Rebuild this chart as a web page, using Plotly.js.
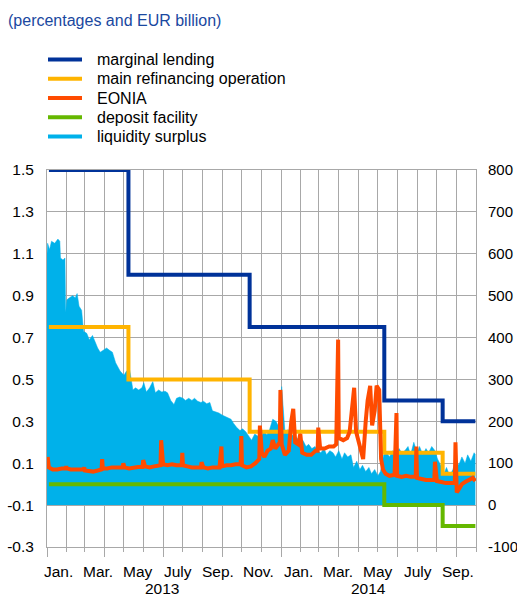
<!DOCTYPE html>
<html><head><meta charset="utf-8">
<script src="https://cdn.plot.ly/plotly-3.0.1.min.js"></script>
<style>html,body{margin:0;padding:0;background:#fff;}#chart{width:517px;height:597px;}</style>
</head><body><div id="chart"></div>
<script>
// ---------------- data ----------------
const rateDates = ['2013-01-04','2013-05-08','2013-11-13','2014-06-11','2014-09-10','2014-10-31'];
const marginalLending = [1.50, 1.00, 0.75, 0.40, 0.30, 0.30];
const mainRefinancing = [0.75, 0.50, 0.25, 0.15, 0.05, 0.05];
const depositFacility = [0.00, 0.00, 0.00, -0.10, -0.20, -0.20];

const eoniaDates = [
'2013-01-02','2013-01-04','2013-01-10','2013-01-17','2013-01-24','2013-01-30','2013-01-31','2013-02-01',
'2013-02-07','2013-02-14','2013-02-21','2013-02-27','2013-02-28','2013-03-01','2013-03-07','2013-03-14',
'2013-03-21','2013-03-27','2013-03-28','2013-03-29','2013-04-05','2013-04-12','2013-04-19','2013-04-29',
'2013-04-30','2013-05-02','2013-05-09','2013-05-16','2013-05-23','2013-05-30','2013-05-31','2013-06-03',
'2013-06-10','2013-06-17','2013-06-24','2013-06-27','2013-06-28','2013-07-01','2013-07-08','2013-07-15',
'2013-07-22','2013-07-30','2013-07-31','2013-08-01','2013-08-08','2013-08-15','2013-08-22','2013-08-29',
'2013-08-30','2013-09-02','2013-09-09','2013-09-16','2013-09-23','2013-09-27','2013-09-30','2013-10-01',
'2013-10-08','2013-10-15','2013-10-22','2013-10-30','2013-10-31','2013-11-01','2013-11-08','2013-11-15',
'2013-11-22','2013-11-28','2013-11-29','2013-12-02','2013-12-06','2013-12-11','2013-12-16','2013-12-19',
'2013-12-23','2013-12-30','2013-12-31','2014-01-02','2014-01-07','2014-01-13','2014-01-17','2014-01-20',
'2014-01-23','2014-01-28','2014-01-31','2014-02-03','2014-02-10','2014-02-17','2014-02-24','2014-02-27',
'2014-02-28','2014-03-03','2014-03-10','2014-03-17','2014-03-24','2014-03-28','2014-03-31','2014-04-01',
'2014-04-08','2014-04-14','2014-04-18','2014-04-22','2014-04-25','2014-04-28','2014-05-02','2014-05-06',
'2014-05-09','2014-05-13','2014-05-16','2014-05-20','2014-05-23','2014-05-27','2014-05-30','2014-06-03',
'2014-06-06','2014-06-09','2014-06-13','2014-06-19','2014-06-25','2014-06-27','2014-06-30','2014-07-01',
'2014-07-08','2014-07-15','2014-07-22','2014-07-30','2014-07-31','2014-08-01','2014-08-08','2014-08-15',
'2014-08-22','2014-08-28','2014-08-29','2014-09-01','2014-09-08','2014-09-15','2014-09-22','2014-09-29',
'2014-09-30','2014-10-02','2014-10-06','2014-10-10','2014-10-15','2014-10-21','2014-10-27','2014-10-31'];
const eoniaValues = [
0.13,0.08,0.07,0.07,0.075,0.075,0.085,0.075,
0.07,0.068,0.07,0.07,0.08,0.065,0.062,0.06,
0.065,0.07,0.12,0.075,0.075,0.08,0.08,0.08,
0.10,0.08,0.075,0.08,0.082,0.082,0.115,0.085,
0.08,0.085,0.09,0.09,0.21,0.095,0.09,0.095,
0.09,0.09,0.15,0.09,0.085,0.08,0.08,0.08,
0.105,0.08,0.075,0.08,0.08,0.08,0.18,0.085,
0.09,0.09,0.095,0.095,0.23,0.09,0.08,0.085,
0.10,0.12,0.28,0.15,0.13,0.16,0.17,0.21,
0.17,0.20,0.45,0.19,0.14,0.16,0.30,0.36,
0.20,0.19,0.24,0.15,0.14,0.14,0.16,0.16,
0.27,0.17,0.17,0.18,0.18,0.19,0.69,0.22,
0.21,0.22,0.25,0.38,0.46,0.25,0.20,0.15,
0.12,0.30,0.40,0.47,0.28,0.35,0.47,0.45,
0.12,0.07,0.05,0.04,0.045,0.045,0.34,0.04,
0.035,0.04,0.035,0.035,0.18,0.03,0.025,0.02,
0.02,0.02,0.107,0.015,0.01,0.005,0.005,0.005,
0.20,-0.04,-0.02,0.00,0.01,0.02,0.03,0.015];

const liqDates = [
'2013-01-01','2013-01-02','2013-01-05','2013-01-08','2013-01-13','2013-01-18','2013-01-21','2013-01-22',
'2013-01-26','2013-01-29','2013-01-30','2013-02-01','2013-02-05','2013-02-10','2013-02-14','2013-02-17',
'2013-02-20','2013-02-24','2013-02-27','2013-03-04','2013-03-08','2013-03-13','2013-03-17','2013-03-21',
'2013-03-25','2013-03-30','2013-04-04','2013-04-08','2013-04-13','2013-04-18','2013-04-21','2013-04-25',
'2013-05-01','2013-05-05','2013-05-10','2013-05-15','2013-05-19','2013-05-24','2013-05-29','2013-06-01',
'2013-06-05','2013-06-10','2013-06-15','2013-06-19','2013-06-24','2013-06-29','2013-07-04','2013-07-08',
'2013-07-13','2013-07-18','2013-07-22','2013-07-27','2013-08-01','2013-08-05','2013-08-10','2013-08-15',
'2013-08-19','2013-08-24','2013-08-29','2013-09-02','2013-09-07','2013-09-12','2013-09-16','2013-09-21',
'2013-09-26','2013-10-01','2013-10-05','2013-10-10','2013-10-15','2013-10-19','2013-10-24','2013-10-29',
'2013-11-02','2013-11-07','2013-11-12','2013-11-16','2013-11-21','2013-11-26','2013-11-30','2013-12-05',
'2013-12-10','2013-12-14','2013-12-19','2013-12-24','2013-12-29','2014-01-02','2014-01-07','2014-01-12',
'2014-01-16','2014-01-21','2014-01-26','2014-01-30','2014-02-04','2014-02-09','2014-02-13','2014-02-18',
'2014-02-23','2014-02-27','2014-03-04','2014-03-09','2014-03-13','2014-03-18','2014-03-23','2014-03-27',
'2014-04-01','2014-04-06','2014-04-10','2014-04-15','2014-04-20','2014-04-24','2014-04-29','2014-05-04',
'2014-05-08','2014-05-13','2014-05-18','2014-05-22','2014-05-27','2014-06-01','2014-06-05','2014-06-10',
'2014-06-15','2014-06-19','2014-06-24','2014-06-29','2014-07-04','2014-07-08','2014-07-13','2014-07-18',
'2014-07-22','2014-07-27','2014-08-01','2014-08-05','2014-08-10','2014-08-15','2014-08-19','2014-08-24',
'2014-08-29','2014-09-02','2014-09-07','2014-09-12','2014-09-16','2014-09-21','2014-09-26','2014-10-01',
'2014-10-05','2014-10-10','2014-10-15','2014-10-19','2014-10-24','2014-10-29','2014-10-31'];
const liqValues = [
600,625,610,630,625,635,630,590,
585,590,460,490,495,500,495,505,
475,465,415,410,395,405,390,375,
365,370,375,370,365,340,330,320,
310,320,322,275,280,275,280,292,
270,280,295,268,275,270,272,268,
250,240,255,258,255,250,255,250,
255,248,245,248,242,245,225,222,
220,215,212,210,205,195,185,178,
182,175,165,155,170,165,160,175,
168,180,205,200,185,283,175,180,
170,165,160,150,155,140,145,135,
140,130,125,135,120,130,125,115,
130,110,125,115,120,90,105,85,
95,80,90,75,85,70,80,120,
125,115,130,120,135,125,130,140,
120,150,125,140,120,135,125,140,
130,110,95,75,90,70,85,110,
95,115,100,120,105,125,120];

const monthGrid = ['2013-01-01','2013-02-01','2013-03-01','2013-04-01','2013-05-01','2013-06-01','2013-07-01',
'2013-08-01','2013-09-01','2013-10-01','2013-11-01','2013-12-01','2014-01-01','2014-02-01','2014-03-01',
'2014-04-01','2014-05-01','2014-06-01','2014-07-01','2014-08-01','2014-09-01','2014-10-01','2014-11-01'];
const quarterTicks = ['2013-01-01','2013-04-01','2013-07-01','2013-10-01','2014-01-01','2014-04-01','2014-07-01','2014-10-01'];
const monthLabels = ['Jan.','Mar.','May','July','Sep.','Nov.','Jan.','Mar.','May','July','Sep.'];
const yearLabels = ['2013','2014'];
const leftTicks = [1.5,1.3,1.1,0.9,0.7,0.5,0.3,0.1,-0.1,-0.3];
const leftTickText = ['1.5','1.3','1.1','0.9','0.7','0.5','0.3','0.1','-0.1','-0.3'];
const rightTicks = [800,700,600,500,400,300,200,100,0,-100];
const rightTickText = ['800','700','600','500','400','300','200','100','0','-100'];
const seriesNames = ['marginal lending','main refinancing operation','EONIA','deposit facility','liquidity surplus'];

// ---------------- styling ----------------
const W=517, H=597, ML=47, MR=41, MT=170, MB=50;
const PW=W-ML-MR, PH=H-MT-MB;
const C = {ml:'#003299', mro:'#FFB400', eonia:'#FF4B00', dep:'#65B800', liq:'#00B1EA'};
const legendColors = [C.ml, C.mro, C.eonia, C.dep, C.liq];
const FONT = 'Liberation Sans, Arial, Helvetica, sans-serif';
const GRID = '#a8a8a8';
const px2x = p => (p-ML)/PW;
const px2y = p => (H-MB-p)/PH;

// liquidity on primary axis 'y' (right side, drawn underneath); rates on overlay 'y2' (left side, drawn on top)
const traces = [
  {x: liqDates, y: liqValues, yaxis:'y', type:'scatter', mode:'lines', fill:'tozeroy',
   fillcolor:C.liq, line:{color:C.liq, width:0.5}, name:seriesNames[4], hoverinfo:'skip'},
  {x: rateDates, y: depositFacility, yaxis:'y2', type:'scatter', mode:'lines', line:{color:C.dep, width:4, shape:'hv'}, name:seriesNames[3]},
  {x: rateDates, y: mainRefinancing, yaxis:'y2', type:'scatter', mode:'lines', line:{color:C.mro, width:4, shape:'hv'}, name:seriesNames[1]},
  {x: rateDates, y: marginalLending, yaxis:'y2', type:'scatter', mode:'lines', line:{color:C.ml, width:4, shape:'hv'}, name:seriesNames[0]},
  {x: eoniaDates, y: eoniaValues, yaxis:'y2', type:'scatter', mode:'lines', line:{color:C.eonia, width:4}, name:seriesNames[2]}
];

const shapes = [];
const annotations = [];
const legendRowsY = [59.5, 78.7, 98, 117.2, 136.5];
seriesNames.forEach((n,i)=>{
  shapes.push({type:'line', xref:'paper', yref:'paper', x0:px2x(48), x1:px2x(82), y0:px2y(legendRowsY[i]), y1:px2y(legendRowsY[i]),
    line:{color:legendColors[i], width:4}});
  annotations.push({xref:'paper', yref:'paper', x:px2x(95), y:px2y(legendRowsY[i]), xanchor:'left', yanchor:'middle',
    text:n, showarrow:false, font:{family:FONT, size:16, color:'#000'}});
});
monthLabels.forEach((t,i)=>{
  annotations.push({xref:'paper', yref:'paper', x:px2x(58+40*i), y:px2y(571.5), xanchor:'center', yanchor:'middle',
    text:t, showarrow:false, font:{family:FONT, size:15.5, color:'#000'}});
});
const yearPx = [161.5, 368];
yearLabels.forEach((t,i)=>{
  annotations.push({xref:'paper', yref:'paper', x:px2x(yearPx[i]), y:px2y(588), xanchor:'center', yanchor:'middle',
    text:t, showarrow:false, font:{family:FONT, size:15.5, color:'#000'}});
});

const layout = {
  width:W, height:H, margin:{l:ML, r:MR, t:MT, b:MB, pad:0},
  paper_bgcolor:'#fff', plot_bgcolor:'#fff', showlegend:false,
  font:{family:FONT, size:15.5, color:'#000'},
  title:{text:'(percentages and EUR billion)', font:{family:FONT, size:16, color:'#1a48a0'},
    x:8/W, xanchor:'left', xref:'container', y:1-20.5/H, yanchor:'middle', yref:'container'},
  xaxis:{type:'date', range:['2013-01-01','2014-11-01'], tickmode:'array', tickvals:quarterTicks, showticklabels:false,
    ticks:'outside', ticklen:9, tickcolor:GRID, showgrid:true, gridcolor:GRID, gridwidth:1,
    minor:{tickmode:'array', tickvals:monthGrid, ticks:'outside', ticklen:4, tickcolor:GRID, showgrid:true, gridcolor:GRID, gridwidth:1},
    showline:true, linecolor:GRID, linewidth:1, mirror:true, zeroline:false},
  yaxis:{range:[-100,800], side:'right', tickmode:'array', tickvals:rightTicks, ticktext:rightTickText,
    showgrid:true, gridcolor:GRID, zeroline:false, ticks:'outside', ticklen:8, tickcolor:'rgba(0,0,0,0)',
    showline:true, linecolor:GRID, mirror:true, tickfont:{family:FONT, size:15, color:'#000'}},
  yaxis2:{range:[-0.3,1.5], overlaying:'y', side:'left', tickmode:'array', tickvals:leftTicks, ticktext:leftTickText,
    showgrid:false, zeroline:false, ticks:'outside', ticklen:9, tickcolor:'rgba(0,0,0,0)', showline:false,
    tickfont:{family:FONT, size:15.5, color:'#000'}},
  shapes:shapes, annotations:annotations
};

Plotly.newPlot('chart', traces, layout, {staticPlot:true, displayModeBar:false});
</script></body></html>
